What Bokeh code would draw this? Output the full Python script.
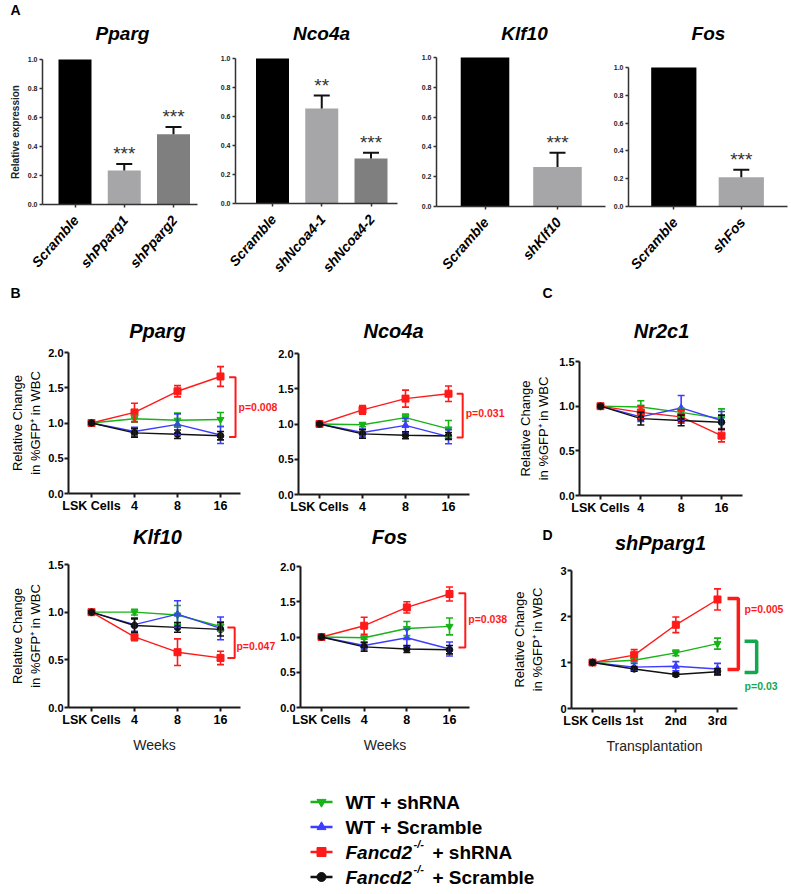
import math
from bokeh.plotting import figure
from bokeh.layouts import row, column
from bokeh.models import (Range1d, FixedTicker, PrintfTickFormatter, Label, Whisker,
                          TeeHead, ColumnDataSource, LinearAxis)
from bokeh.embed import file_html
from bokeh.resources import INLINE
from bokeh.core.properties import value

FONT = "Liberation Sans"

# ======================= DATA =======================
# Panel A : knockdown efficiency (relative expression)
pparg_kd_groups = ["Scramble", "shPparg1", "shPparg2"]
pparg_kd_vals = [1.0, 0.235, 0.485]
pparg_kd_err = [0.0, 0.045, 0.05]
pparg_kd_sig = ["", "***", "***"]

ncoa4_kd_groups = ["Scramble", "shNcoa4-1", "shNcoa4-2"]
ncoa4_kd_vals = [1.0, 0.655, 0.31]
ncoa4_kd_err = [0.0, 0.09, 0.04]
ncoa4_kd_sig = ["", "**", "***"]

klf10_kd_groups = ["Scramble", "shKlf10"]
klf10_kd_vals = [1.0, 0.265]
klf10_kd_err = [0.0, 0.095]
klf10_kd_sig = ["", "***"]

fos_kd_groups = ["Scramble", "shFos"]
fos_kd_vals = [1.0, 0.21]
fos_kd_err = [0.0, 0.055]
fos_kd_sig = ["", "***"]

bar_colors = ["#000000", "#a6a6a8", "#7f7f7f"]

# Panels B-D : relative change in %GFP+ in WBC
week_labels = ["LSK Cells", "4", "8", "16"]
transplant_labels = ["LSK Cells", "1st", "2nd", "3rd"]

series_names = ["WT + shRNA", "WT + Scramble", "Fancd2-/- + shRNA", "Fancd2-/- + Scramble"]
series_colors = ["#17b317", "#3d3dff", "#ff1a1a", "#111111"]
series_markers = ["inverted_triangle", "triangle", "square", "circle"]

pparg_wt_sh = [1.0, 1.06, 1.04, 1.05]
pparg_wt_sh_err = [0.0, 0.05, 0.10, 0.10]
pparg_wt_scr = [1.0, 0.88, 0.98, 0.83]
pparg_wt_scr_err = [0.0, 0.06, 0.15, 0.12]
pparg_fa_sh = [1.0, 1.15, 1.45, 1.66]
pparg_fa_sh_err = [0.0, 0.13, 0.08, 0.14]
pparg_fa_scr = [1.0, 0.86, 0.84, 0.82]
pparg_fa_scr_err = [0.0, 0.06, 0.06, 0.06]

ncoa4_wt_sh = [1.0, 0.99, 1.09, 0.93]
ncoa4_wt_sh_err = [0.0, 0.03, 0.05, 0.12]
ncoa4_wt_scr = [1.0, 0.88, 0.98, 0.82]
ncoa4_wt_scr_err = [0.0, 0.05, 0.10, 0.10]
ncoa4_fa_sh = [1.0, 1.20, 1.36, 1.43]
ncoa4_fa_sh_err = [0.0, 0.06, 0.12, 0.11]
ncoa4_fa_scr = [1.0, 0.86, 0.84, 0.83]
ncoa4_fa_scr_err = [0.0, 0.06, 0.05, 0.05]

nr2c1_wt_sh = [1.0, 0.99, 0.93, 0.86]
nr2c1_wt_sh_err = [0.0, 0.07, 0.05, 0.11]
nr2c1_wt_scr = [1.0, 0.88, 0.98, 0.84]
nr2c1_wt_scr_err = [0.0, 0.05, 0.14, 0.10]
nr2c1_fa_sh = [1.0, 0.93, 0.88, 0.67]
nr2c1_fa_sh_err = [0.0, 0.07, 0.07, 0.07]
nr2c1_fa_scr = [1.0, 0.86, 0.84, 0.82]
nr2c1_fa_scr_err = [0.0, 0.07, 0.06, 0.08]

klf10_wt_sh = [1.0, 1.0, 0.97, 0.85]
klf10_wt_sh_err = [0.0, 0.03, 0.10, 0.05]
klf10_wt_scr = [1.0, 0.87, 0.98, 0.83]
klf10_wt_scr_err = [0.0, 0.07, 0.14, 0.12]
klf10_fa_sh = [1.0, 0.74, 0.58, 0.52]
klf10_fa_sh_err = [0.0, 0.04, 0.14, 0.07]
klf10_fa_scr = [1.0, 0.86, 0.84, 0.82]
klf10_fa_scr_err = [0.0, 0.07, 0.05, 0.07]

fos_wt_sh = [1.0, 0.99, 1.12, 1.15]
fos_wt_sh_err = [0.0, 0.02, 0.10, 0.12]
fos_wt_scr = [1.0, 0.88, 0.99, 0.83]
fos_wt_scr_err = [0.0, 0.05, 0.12, 0.10]
fos_fa_sh = [1.0, 1.16, 1.42, 1.61]
fos_fa_sh_err = [0.0, 0.12, 0.08, 0.10]
fos_fa_scr = [1.0, 0.86, 0.83, 0.82]
fos_fa_scr_err = [0.0, 0.06, 0.05, 0.06]

tp_wt_sh = [1.0, 1.05, 1.21, 1.41]
tp_wt_sh_err = [0.0, 0.03, 0.06, 0.12]
tp_wt_scr = [1.0, 0.90, 0.92, 0.86]
tp_wt_scr_err = [0.0, 0.08, 0.10, 0.12]
tp_fa_sh = [1.0, 1.16, 1.82, 2.37]
tp_fa_sh_err = [0.0, 0.12, 0.17, 0.23]
tp_fa_scr = [1.0, 0.86, 0.74, 0.80]
tp_fa_scr_err = [0.0, 0.05, 0.04, 0.07]

RED = "#ff1a1a"
GREEN_P = "#14a84e"

LABEL_SLANT = 0.85   # slant (radians) of the group names in panel A


# ======================= HELPERS =======================
class Geo:
    """Maps page-pixel positions to data units for a panel whose plotting
    area (frame, in page pixels) shows data ranges xr, yr."""
    def __init__(self, frame, xr, yr):
        self.frame, self.xr, self.yr = frame, xr, yr

    def sx(self):
        fx0, fx1, _, _ = self.frame
        return (fx1 - fx0) / (self.xr[1] - self.xr[0])

    def sy(self):
        _, _, fy0, fy1 = self.frame
        return (fy1 - fy0) / (self.yr[1] - self.yr[0])

    def x(self, px):
        return self.xr[0] + (px - self.frame[0]) / self.sx()

    def y(self, py):
        return self.yr[0] + (self.frame[3] - py) / self.sy()

    def dx(self, pix):
        return pix / self.sx()

    def dy(self, pix):
        return pix / self.sy()


def make_fig(box, g):
    bx0, bx1, by0, by1 = box
    p = figure(width=int(bx1 - bx0), height=int(by1 - by0),
               x_range=Range1d(g.x(bx0), g.x(bx1)), y_range=Range1d(g.y(by1), g.y(by0)),
               toolbar_location=None, tools="", output_backend="svg",
               x_axis_location=None, y_axis_location=None, title=None,
               min_border_left=0, min_border_right=0, min_border_top=0, min_border_bottom=0)
    p.grid.visible = False
    p.outline_line_color = None
    p.background_fill_color = "white"
    p.border_fill_color = "white"
    return p


def add_axes(p, g, xticks, xlabels, yticks, yfmt):
    xax = LinearAxis(fixed_location=g.yr[0], bounds=(g.xr[0], g.xr[1]),
                     ticker=FixedTicker(ticks=xticks),
                     major_label_overrides={t: lab for t, lab in zip(xticks, xlabels)})
    yax = LinearAxis(fixed_location=g.xr[0], bounds=(g.yr[0], g.yr[1]),
                     ticker=FixedTicker(ticks=yticks), formatter=PrintfTickFormatter(format=yfmt))
    p.add_layout(xax, "below")
    p.add_layout(yax, "left")
    return xax, yax


def add_label(p, g, px, py, text, size, style="bold", color="black", align="left"):
    # (px, py): visual centre line of the text in page pixels
    p.add_layout(Label(x=g.x(px), y=g.y(py), text=text, text_font=FONT,
                       text_font_size=f"{size}px", text_font_style=style, text_color=color,
                       text_align=align, text_baseline="middle"))


def bar_panel(box, frame, c0, step, groups, vals, errs, sig, title, title_px,
              ylabel=None, letter=None):
    # x unit chosen so that one x unit spans as many pixels as one y unit
    sy = frame[3] - frame[2]
    u = step / sy                      # spacing between bar centres in x units
    xr = ((frame[0] - c0) / sy, (frame[1] - c0) / sy)
    g = Geo(frame, xr, (0.0, 1.0))
    p = make_fig(box, g)
    xs = [i * u for i in range(len(groups))]
    p.vbar(x=xs, top=vals, width=0.67 * u, fill_color=bar_colors[:len(groups)], line_color=None)
    idx = [i for i in range(len(xs)) if errs[i] > 0]
    tops = [vals[i] + errs[i] for i in idx]
    cap = g.dx(8)
    p.segment(x0=[xs[i] for i in idx], x1=[xs[i] for i in idx],
              y0=[vals[i] for i in idx], y1=tops, line_color="#111111", line_width=2)
    p.segment(x0=[xs[i] - cap for i in idx], x1=[xs[i] + cap for i in idx],
              y0=tops, y1=tops, line_color="#111111", line_width=2)
    p.text(x=[xs[i] for i in idx], y=[t + g.dy(10) for t in tops], text=[sig[i] for i in idx],
           text_font=value(FONT), text_font_size="19px", text_align="center",
           text_baseline="middle", text_color="#333333")
    xax, yax = add_axes(p, g, xs, [""] * len(xs), [0, 0.2, 0.4, 0.6, 0.8, 1.0], "%.1f")
    # slanted group names under the bars
    p.text(x=[x + g.dx(1) for x in xs], y=[-g.dy(13)] * len(xs), text=groups,
           angle=LABEL_SLANT, text_font=value(FONT), text_font_size="14px",
           text_font_style="bold italic", text_color="black", text_align="right",
           text_baseline="middle")
    yax.major_label_text_font = FONT
    yax.major_label_text_font_style = "bold"
    yax.major_label_text_font_size = "7px"
    yax.major_label_text_color = "#222222"
    yax.major_label_standoff = 2
    for ax in (xax, yax):
        ax.axis_line_width = 1.5
        ax.axis_line_color = "#333333"
        ax.major_tick_line_color = "#333333"
        ax.major_tick_line_width = 1.5
        ax.major_tick_out = 3
        ax.major_tick_in = 0
        ax.minor_tick_line_color = None
    if ylabel:
        yax.axis_label = ylabel
        yax.axis_label_text_font = FONT
        yax.axis_label_text_font_size = "10px"
        yax.axis_label_text_font_style = "bold"
        yax.axis_label_text_color = "#222222"
        yax.axis_label_standoff = 4
    add_label(p, g, title_px[0], title_px[1], title, 19, "bold italic", "black", "center")
    if letter:
        add_label(p, g, letter[1], letter[2], letter[0], 14, "bold")
    return p


def line_panel(box, frame, lsk_px, unit_px, yr, yticks, yfmt, xlabels, series, title, title_px,
               ylabel_standoff=None, xlabel=None, brackets=(), ptexts=(), letter=None):
    xr = ((frame[0] - lsk_px) / unit_px, (frame[1] - lsk_px) / unit_px)
    g = Geo(frame, xr, yr)
    p = make_fig(box, g)
    xs = list(range(len(xlabels)))
    for (vals, errs), color, marker in zip(series, series_colors, series_markers):
        p.line(xs, vals, line_color=color, line_width=1.4)
        sel = [i for i in xs if errs[i] > 0]
        src = ColumnDataSource(dict(x=[xs[i] for i in sel],
                                    lower=[vals[i] - errs[i] for i in sel],
                                    upper=[vals[i] + errs[i] for i in sel]))
        p.add_layout(Whisker(source=src, base="x", lower="lower", upper="upper",
                             dimension="height", line_color=color, line_width=1.6, level="glyph",
                             upper_head=TeeHead(size=7, line_color=color, line_width=1.6),
                             lower_head=TeeHead(size=7, line_color=color, line_width=1.6)))
        p.scatter(xs, vals, marker=marker, size=7 if marker != "circle" else 6.5,
                  fill_color=color, line_color=color)
    xax, yax = add_axes(p, g, xs, xlabels, yticks, yfmt)
    xax.major_label_text_font_size = "12.5px"
    yax.major_label_text_font_size = "11px"
    for ax in (xax, yax):
        ax.major_label_text_font = FONT
        ax.major_label_text_font_style = "bold"
        ax.major_label_text_color = "black"
        ax.major_label_standoff = 1
        ax.axis_line_width = 2
        ax.axis_line_color = "#1a1a1a"
        ax.major_tick_line_width = 2
        ax.major_tick_line_color = "#1a1a1a"
        ax.major_tick_out = 4
        ax.major_tick_in = 0
        ax.minor_tick_line_color = None
    if ylabel_standoff is not None:
        yax.axis_label = "Relative Change\nin %GFP\u207a in WBC"
        yax.axis_label_text_font = FONT
        yax.axis_label_text_font_size = "13px"
        yax.axis_label_text_font_style = "normal"
        yax.axis_label_text_color = "black"
        yax.axis_label_standoff = ylabel_standoff
    if xlabel:
        xax.axis_label = xlabel
        xax.axis_label_text_font = FONT
        xax.axis_label_text_font_size = "14px"
        xax.axis_label_text_font_style = "normal"
        xax.axis_label_text_color = "#222222"
        xax.axis_label_standoff = 7
    for (x0, x1, ylo, yhi, color, lw) in brackets:
        p.line([x0, x1, x1, x0], [yhi, yhi, ylo, ylo], line_color=color, line_width=lw)
    for (x, y, text, color) in ptexts:
        p.add_layout(Label(x=x, y=y, text=text, text_font=FONT, text_font_size="10.5px",
                           text_font_style="bold", text_color=color, text_align="left",
                           text_baseline="middle"))
    add_label(p, g, title_px[0], title_px[1], title, 20, "bold italic", "black", "center")
    if letter:
        add_label(p, g, letter[1], letter[2], letter[0], 14, "bold")
    return p


# ======================= PANEL A =======================
ROW_A = (0, 278)
a1 = bar_panel((0, 215) + ROW_A, (42, 197, 59, 204), 74.5, 49.25,
               pparg_kd_groups, pparg_kd_vals, pparg_kd_err, pparg_kd_sig,
               "Pparg", (122, 33), ylabel="Relative expression", letter=("A", 10, 9.5))
a2 = bar_panel((215, 415) + ROW_A, (235, 397, 58, 203), 272, 49.25,
               ncoa4_kd_groups, ncoa4_kd_vals, ncoa4_kd_err, ncoa4_kd_sig,
               "Nco4a", (321, 33))
a3 = bar_panel((415, 608) + ROW_A, (436, 605, 57, 206), 484.5, 72.5,
               klf10_kd_groups, klf10_kd_vals, klf10_kd_err, klf10_kd_sig,
               "Klf10", (524, 33))
a4 = bar_panel((608, 791) + ROW_A, (628, 787, 67, 206), 673.3, 67.5,
               fos_kd_groups, fos_kd_vals, fos_kd_err, fos_kd_sig,
               "Fos", (708, 33))

# ======================= PANELS B, C, D =======================
ROW_B1 = (278, 520)
ROW_B2 = (520, 762)
b1 = line_panel((0, 277) + ROW_B1, (68, 240, 352, 493), 91, 43, (0, 2.0),
                [0, 0.5, 1.0, 1.5, 2.0], "%.1f", week_labels,
                [(pparg_wt_sh, pparg_wt_sh_err), (pparg_wt_scr, pparg_wt_scr_err),
                 (pparg_fa_sh, pparg_fa_sh_err), (pparg_fa_scr, pparg_fa_scr_err)],
                "Pparg", (157, 330), ylabel_standoff=2,
                brackets=[(3.2, 3.35, 0.80, 1.65, RED, 2)],
                ptexts=[(3.42, 1.23, "p=0.008", RED)], letter=("B", 10, 292.5))
b2 = line_panel((277, 512) + ROW_B1, (298, 469, 353, 494), 319, 43, (0, 2.0),
                [0, 0.5, 1.0, 1.5, 2.0], "%.1f", week_labels,
                [(ncoa4_wt_sh, ncoa4_wt_sh_err), (ncoa4_wt_scr, ncoa4_wt_scr_err),
                 (ncoa4_fa_sh, ncoa4_fa_sh_err), (ncoa4_fa_scr, ncoa4_fa_scr_err)],
                "Nco4a", (393, 330),
                brackets=[(3.19, 3.33, 0.81, 1.43, RED, 2)],
                ptexts=[(3.40, 1.15, "p=0.031", RED)])
c1 = line_panel((512, 791) + ROW_B1, (579, 742, 361, 495), 600, 40.33, (0, 1.5),
                [0, 0.5, 1.0, 1.5], "%.1f", week_labels,
                [(nr2c1_wt_sh, nr2c1_wt_sh_err), (nr2c1_wt_scr, nr2c1_wt_scr_err),
                 (nr2c1_fa_sh, nr2c1_fa_sh_err), (nr2c1_fa_scr, nr2c1_fa_scr_err)],
                "Nr2c1", (661, 330), ylabel_standoff=5, letter=("C", 542, 292.5))
b3 = line_panel((0, 277) + ROW_B2, (68, 240, 564, 707), 91, 43, (0, 1.5),
                [0, 0.5, 1.0, 1.5], "%.1f", week_labels,
                [(klf10_wt_sh, klf10_wt_sh_err), (klf10_wt_scr, klf10_wt_scr_err),
                 (klf10_fa_sh, klf10_fa_sh_err), (klf10_fa_scr, klf10_fa_scr_err)],
                "Klf10", (157, 536), ylabel_standoff=2, xlabel="Weeks",
                brackets=[(3.16, 3.33, 0.52, 0.84, RED, 2)],
                ptexts=[(3.37, 0.64, "p=0.047", RED)])
b4 = line_panel((277, 512) + ROW_B2, (300, 469, 566, 707), 321, 42.67, (0, 2.0),
                [0, 0.5, 1.0, 1.5, 2.0], "%.1f", week_labels,
                [(fos_wt_sh, fos_wt_sh_err), (fos_wt_scr, fos_wt_scr_err),
                 (fos_fa_sh, fos_fa_sh_err), (fos_fa_scr, fos_fa_scr_err)],
                "Fos", (389, 536), xlabel="Weeks",
                brackets=[(3.21, 3.37, 0.85, 1.62, RED, 2)],
                ptexts=[(3.44, 1.26, "p=0.038", RED)])
d1 = line_panel((512, 791) + ROW_B2, (571, 737, 570, 708), 592, 41.67, (0, 3.0),
                [0, 1, 2, 3], "%d", transplant_labels,
                [(tp_wt_sh, tp_wt_sh_err), (tp_wt_scr, tp_wt_scr_err),
                 (tp_fa_sh, tp_fa_sh_err), (tp_fa_scr, tp_fa_scr_err)],
                "shPparg1", (660, 542), ylabel_standoff=12, xlabel="Transplantation",
                brackets=[(3.24, 3.50, 0.85, 2.39, RED, 3.5),
                          (3.65, 3.94, 0.78, 1.46, GREEN_P, 3.5)],
                ptexts=[(3.65, 2.17, "p=0.005", RED), (3.65, 0.50, "p=0.03", GREEN_P)],
                letter=("D", 542, 534))

# ======================= LEGEND =======================
LEG_BOX = (0, 791, 762, 892)
lg = Geo(LEG_BOX, (0, 791), (892, 762))
leg = make_fig(LEG_BOX, lg)
row_mid = [801.5, 826.5, 851.5, 876.5]
for ym, color, marker in zip(row_mid, series_colors, series_markers):
    leg.segment(x0=[310], x1=[332], y0=[ym], y1=[ym], line_color=color, line_width=2.5)
    leg.scatter([321], [ym], marker=marker, size=9, fill_color=color, line_color=color)


def leg_text(x, y, text, size, style):
    leg.text(x=[x], y=[y], text=[text], text_font=value(FONT), text_font_size=f"{size}px",
             text_font_style=style, text_color="black", text_align="left",
             text_baseline="middle")


leg_text(345, row_mid[0], series_names[0], 19, "bold")
leg_text(345, row_mid[1], series_names[1], 19, "bold")
for ym, name in ((row_mid[2], series_names[2]), (row_mid[3], series_names[3])):
    gene, rest = name.split("-/-")
    leg_text(345, ym, gene, 19, "bold italic")
    leg_text(413, ym - 8, "-/-", 11, "bold italic")
    leg_text(432, ym, rest.strip(), 19, "bold")

layout = column(row(a1, a2, a3, a4), row(b1, b2, c1), row(b3, b4, d1), leg)

with open("out.html", "w") as fh:
    fh.write(file_html(layout, INLINE))
